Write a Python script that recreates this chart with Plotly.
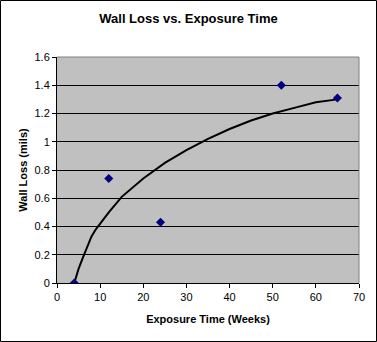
import plotly.graph_objects as go

weeks = [4, 12, 24, 52, 65]
wall_loss = [0.0, 0.74, 0.43, 1.40, 1.31]

# trend line
trend_x = [4, 5, 6, 7, 8, 9, 10, 12, 15, 18, 20, 25, 30, 35, 40, 45, 50, 55, 60, 65]
trend_y = [0.0, 0.10, 0.18, 0.26, 0.33, 0.38, 0.42, 0.50, 0.61, 0.69, 0.74, 0.85, 0.94, 1.02, 1.09, 1.15, 1.20, 1.24, 1.28, 1.30]

x_ticks = [0, 10, 20, 30, 40, 50, 60, 70]
y_ticks = [0, 0.2, 0.4, 0.6, 0.8, 1, 1.2, 1.4, 1.6]

W, H = 377, 342
L, R, T, B = 57, 18, 57, 59
pw, ph = W - L - R, H - T - B

fig = go.Figure()
fig.add_trace(go.Scatter(x=trend_x, y=trend_y, mode="lines",
                         line=dict(color="black", width=2), hoverinfo="skip"))
fig.add_trace(go.Scatter(x=weeks, y=wall_loss, mode="markers",
                         marker=dict(symbol="diamond", color="#000080", size=7)))

font = "Liberation Sans, Arial, sans-serif"
fig.update_layout(
    width=W, height=H,
    margin=dict(l=L, r=R, t=T, b=B),
    paper_bgcolor="white", plot_bgcolor="#C0C0C0",
    showlegend=False,
    font=dict(family=font, size=11, color="black"),
    title=dict(text="<b>Wall Loss vs. Exposure Time</b>", x=0.5, xanchor="center",
               y=1 - 18 / H, yanchor="middle", font=dict(size=13, family=font)),
    xaxis=dict(range=[0, 70], tickvals=x_ticks, ticktext=[str(v) for v in x_ticks],
               showgrid=False, zeroline=False, showline=True, linecolor="black", linewidth=1,
               ticks="outside", ticklen=4, tickcolor="black",
               title=dict(text="<b>Exposure Time (Weeks)</b>", font=dict(size=11), standoff=13)),
    yaxis=dict(range=[0, 1.6], tickvals=y_ticks, ticktext=[f"{v:g}" for v in y_ticks],
               showgrid=True, gridcolor="black", gridwidth=1, zeroline=False,
               showline=True, linecolor="black", linewidth=1,
               ticks="outside", ticklen=4, tickcolor="black",
               title=dict(text="<b>Wall Loss (mils)</b>", font=dict(size=11), standoff=4)),
    shapes=[
        dict(type="line", xref="paper", yref="paper", x0=0, x1=1, y0=1, y1=1,
             line=dict(color="#808080", width=1)),
        dict(type="line", xref="paper", yref="paper", x0=1, x1=1, y0=0, y1=1,
             line=dict(color="#808080", width=1)),
        dict(type="rect", xref="paper", yref="paper",
             x0=(0.5 - L) / pw, x1=(W - 0.5 - L) / pw,
             y0=(ph + T - (H - 0.5)) / ph, y1=(ph + T - 0.5) / ph,
             line=dict(color="black", width=1), fillcolor="rgba(0,0,0,0)"),
    ],
)

fig.write_html("out.html")
